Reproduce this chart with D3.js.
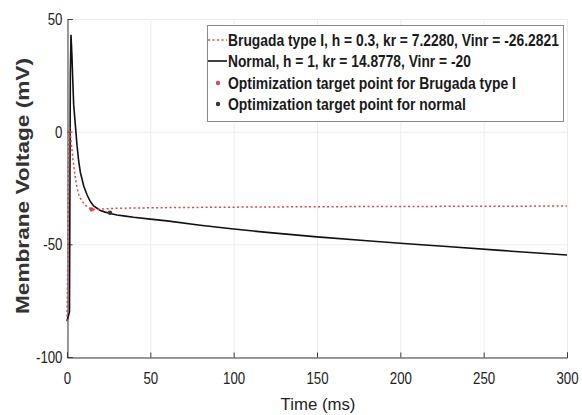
<!DOCTYPE html>
<html>
<head>
<meta charset="utf-8">
<script src="https://cdn.jsdelivr.net/npm/d3@7"></script>
<style>
    body { margin: 0; background: #fff; }
    svg text { font-family: "Liberation Sans", Arial, sans-serif; }
</style>
</head>
<body>
<div id="brugada-chart"><svg width="582" height="415"></svg></div>
<script>
// time (ms) and membrane voltage (mV)
const normalTime = [0, 1.5, 2.0, 2.4, 3.0, 3.5, 4.0, 5.0, 6.0, 7.0, 8.0, 10, 12, 14, 16, 18, 20, 23, 26, 30, 35, 40, 50, 60, 80, 100, 120, 150, 180, 200, 230, 260, 300];
const normalVolt = [-84, -80, 25, 43, 33, 22, 12, 3, -6, -13, -18, -24, -28, -31, -33, -34, -35, -35.7, -36.3, -37, -37.5, -38, -38.8, -39.6, -41.5, -43.2, -44.7, -46.7, -48.4, -49.5, -51.1, -52.7, -54.7];

const brugadaTime = [0, 0.6, 1.0, 1.5, 2.0, 3.0, 4.0, 5.0, 6.0, 7.0, 8.0, 9.0, 10, 12, 14, 16, 20, 25, 30, 40, 60, 100, 150, 200, 250, 300];
const brugadaVolt = [-84, -50, -5, 2, -1, -8, -15, -20.5, -25, -27.8, -29.5, -30.7, -31.8, -33.3, -34.2, -34.5, -34.4, -34.2, -34, -33.9, -33.7, -33.5, -33.3, -33.2, -33.1, -33];

const targetBrugada = [[14.8, -34.5]];
const targetNormal = [[25.8, -36]];

const xTicks = [0, 50, 100, 150, 200, 250, 300];
const yTicks = [-100, -50, 0, 50];

const legendLabels = [
    "Brugada type I, h = 0.3, kr = 7.2280, Vinr = -26.2821",
    "Normal, h = 1, kr = 14.8778, Vinr = -20",
    "Optimization target point for Brugada type I",
    "Optimization target point for normal"
];

const brugadaChart = (function (svg) {
    const left = 67, right = 567, top = 19, bottom = 357;
    const red = "#d9474c";
    const squeeze = 0.78; // the figure's text is horizontally compressed

    const x = d3.scaleLinear().domain([0, 300]).range([left, right]);
    const y = d3.scaleLinear().domain([-100, 50]).range([bottom, top]);

    // squeeze a text node horizontally about its own anchor so it spans `width`
    function fitText(sel, width) {
        sel.each(function () {
            const node = d3.select(this);
            const px = +node.attr("x") || 0, py = +node.attr("y") || 0;
            const s = width ? width / this.getComputedTextLength() : squeeze;
            node.attr("x", 0).attr("y", 0)
                .attr("transform", "translate(" + px + "," + py + ") scale(" + s + ",1)");
        });
    }

    // grid
    const grid = svg.append("g").attr("stroke", "#ececec").attr("stroke-width", 1);
    grid.selectAll("line.gx").data(xTicks).enter().append("line")
        .attr("x1", d => x(d) + 0.5).attr("x2", d => x(d) + 0.5)
        .attr("y1", top).attr("y2", bottom);
    grid.selectAll("line.gy").data(yTicks).enter().append("line")
        .attr("y1", d => y(d) + 0.5).attr("y2", d => y(d) + 0.5)
        .attr("x1", left).attr("x2", right);

    const xAxis = svg.append("g")
        .attr("transform", "translate(0," + (bottom + 0.5) + ")")
        .call(d3.axisBottom(x).tickValues(xTicks).tickSize(-5).tickPadding(14).tickFormat(d3.format("d")));
    const yAxis = svg.append("g")
        .attr("transform", "translate(" + (left + 0.5) + ",0)")
        .call(d3.axisLeft(y).tickValues(yTicks).tickSize(-5).tickPadding(5).tickFormat(d => d < 0 ? "-" + Math.abs(d) : d));

    [xAxis, yAxis].forEach(function (a) {
        a.select(".domain").attr("stroke", "#3a3a3a");
        a.selectAll(".tick line").attr("stroke", "#3a3a3a");
        a.selectAll("text").attr("fill", "#222").attr("font-size", 17);
    });
    xAxis.selectAll(".tick text").each(function () {
        const t = d3.select(this);
        t.attr("transform", "scale(" + squeeze + ",1)");
    });
    yAxis.selectAll(".tick text").each(function () {
        const t = d3.select(this);
        t.attr("transform", "translate(-5,0) scale(" + squeeze + ",1)").attr("x", 0);
    });

    const line = d3.line().x(d => x(d[0])).y(d => y(d[1]));

    svg.append("path")
        .datum(normalTime.map((t, i) => [t, normalVolt[i]]))
        .attr("d", line)
        .attr("fill", "none")
        .attr("stroke", "#111")
        .attr("stroke-width", 1.6);

    svg.append("path")
        .datum(brugadaTime.map((t, i) => [t, brugadaVolt[i]]))
        .attr("d", line)
        .attr("fill", "none")
        .attr("stroke", red)
        .attr("stroke-width", 1.5)
        .attr("stroke-dasharray", "2,2.5");

    svg.selectAll("circle.tb").data(targetBrugada).enter().append("circle")
        .attr("cx", d => x(d[0])).attr("cy", d => y(d[1])).attr("r", 2.2).attr("fill", red);
    svg.selectAll("circle.tn").data(targetNormal).enter().append("circle")
        .attr("cx", d => x(d[0])).attr("cy", d => y(d[1])).attr("r", 2.2).attr("fill", "#333");

    // axis titles
    svg.append("text")
        .attr("x", 318).attr("y", 410)
        .attr("text-anchor", "middle")
        .attr("font-size", 17).attr("fill", "#222")
        .text("Time (ms)")
        .call(fitText, 75);
    svg.append("text")
        .attr("transform", "translate(29,186) rotate(-90)")
        .attr("text-anchor", "middle")
        .attr("font-size", 18).attr("font-weight", "bold").attr("fill", "#333")
        .attr("textLength", 256).attr("lengthAdjust", "spacingAndGlyphs")
        .text("Membrane Voltage (mV)");

    // legend
    const legend = svg.append("g").attr("transform", "translate(207,25)");
    legend.append("rect")
        .attr("x", 0.5).attr("y", 0.5).attr("width", 356).attr("height", 96)
        .attr("fill", "#fff").attr("stroke", "#8a8a8a");
    const rowY = [15, 36, 58, 79];
    const textLen = [331, 243, 288, 238];
    legend.selectAll("text").data(legendLabels).enter().append("text")
        .attr("x", 21).attr("y", (d, i) => rowY[i] + 6)
        .attr("font-size", 16).attr("font-weight", "bold").attr("fill", "#1a1a1a")
        .text(d => d)
        .each(function (d, i) { d3.select(this).call(fitText, textLen[i]); });
    legend.append("line").attr("x1", 1).attr("x2", 20).attr("y1", rowY[0]).attr("y2", rowY[0])
        .attr("stroke", red).attr("stroke-width", 1.5).attr("stroke-dasharray", "2,2.5");
    legend.append("line").attr("x1", 1).attr("x2", 20).attr("y1", rowY[1]).attr("y2", rowY[1])
        .attr("stroke", "#111").attr("stroke-width", 1.6);
    legend.append("circle").attr("cx", 11).attr("cy", rowY[2]).attr("r", 2.2).attr("fill", red);
    legend.append("circle").attr("cx", 11).attr("cy", rowY[3]).attr("r", 2.2).attr("fill", "#333");

    return { x: x, y: y };
})(d3.select("#brugada-chart svg"));
</script>
</body>
</html>
